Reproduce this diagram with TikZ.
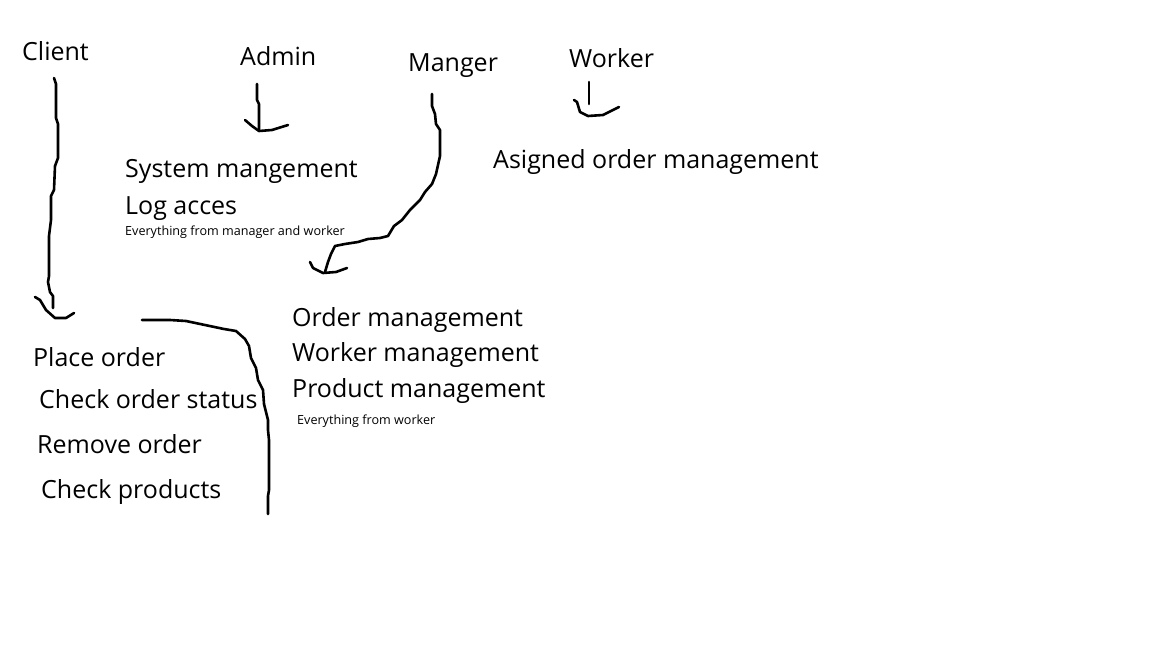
\documentclass[tikz,border=0pt]{standalone}
\usepackage{fontspec}
\setmainfont{Open Sans}
\begin{document}
\begin{tikzpicture}[x=1pt,y=-1pt,
  big/.style={anchor=base west,inner sep=0pt,font=\fontsize{25}{30}\selectfont},
  small/.style={anchor=base west,inner sep=0pt,font=\fontsize{12.6}{15}\selectfont},
  stroke/.style={line width=2.6pt,line cap=round,line join=round,black}]
\useasboundingbox (0,0) rectangle (1152,648);
\node[big] (client) at (22,60) {Client};
\node[big] (admin) at (240,65) {Admin};
\node[big] (manger) at (408,71) {Manger};
\node[big] (worker) at (569,67) {Worker};
\node[big] (sys) at (125,177) {System mangement};
\node[big] (log) at (125,214) {Log acces};
\node[small] (evmw) at (125,235) {Everything from manager and worker};
\node[big] (asg) at (493,168) {Asigned order management};
\node[big] (om) at (292,326) {Order management};
\node[big] (wm) at (292,361) {Worker management};
\node[big] (pm) at (292,397) {Product management};
\node[small] (evw) at (297,424) {Everything from worker};
\node[big] (po) at (33,366) {Place order};
\node[big] (cos) at (39,408) {Check order status};
\node[big] (ro) at (37,453) {Remove order};
\node[big] (cp) at (41,498) {Check products};
% client stroke
\draw[stroke] (54,78) -- (56,84) -- (56,118) -- (58,124) -- (58,158) -- (55,166) -- (54,190) -- (51,196) -- (51,220) -- (49,236) -- (49,276) -- (48,282) -- (50,292) -- (53,296) -- (53,308);
\draw[stroke] (35,297) -- (40,300) -- (46,310) -- (55,318) -- (66,318) -- (74,313);
% admin stroke
\draw[stroke] (257,84) -- (257,100) -- (259,104) -- (259,130);
\draw[stroke] (245,120) -- (252,126) -- (259,131) -- (272,130) -- (288,125);
% manager stroke
\draw[stroke] (432,94) -- (432,106) -- (435,114) -- (436,124) -- (440,130) -- (440,156) -- (436,174) -- (432,184) -- (425,192) -- (420,200) -- (410,210) -- (402,220) -- (394,226) -- (388,236) -- (380,238) -- (368,239) -- (358,242) -- (345,244) -- (335,246) -- (331,254) -- (328,262) -- (325,272);
\draw[stroke] (310,262) -- (313,268) -- (323,273) -- (336,272) -- (347,268);
% worker stroke
\draw[stroke] (589,82) -- (589,104);
\draw[stroke] (574,100) -- (577,102) -- (580,112) -- (588,116) -- (603,115) -- (619,107);
% big curve
\draw[stroke] (142,320) -- (170,320) -- (186,321) -- (205,325) -- (224,329) -- (236,331) -- (245,339) -- (249,346) -- (251,358) -- (256,368) -- (258,380) -- (263,390) -- (264,404) -- (268,420) -- (268,430) -- (269,440) -- (269,490) -- (268,496) -- (268,514);
\end{tikzpicture}
\end{document}
